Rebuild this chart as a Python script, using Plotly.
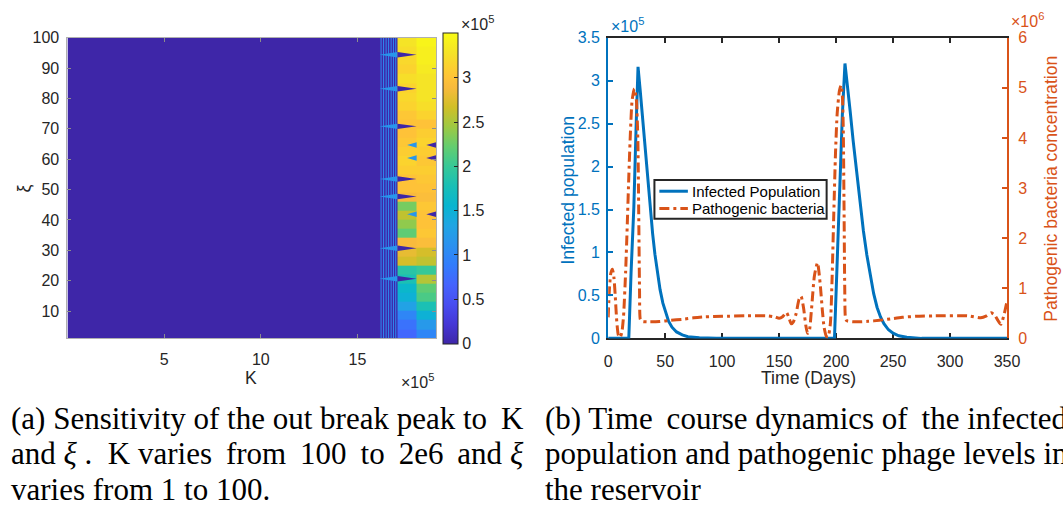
import plotly.graph_objects as go

W, H = 1063, 513

# ---------------- panel (a) data: outbreak peak vs K and xi ----------------
K_edges = [100, 16.14e5, 17.07e5, 18.06e5, 19.06e5]
xi_edges = [1, 4, 7, 10, 13, 16, 19, 22, 25, 28, 31, 34, 37, 40, 43, 46, 49,
            52, 55, 58, 61, 64, 67, 70, 73, 76, 79, 82, 85, 88, 91, 94, 97, 100]
# peak values (x1e5) in the two bands of high K, rows bottom -> top
band1_peak = [0.7, 0.8, 1.0, 1.3, 1.5, 1.6, 1.8, 1.9, 2.7, 2.8, 2.9, 2.2, 2.4,
              2.6, 2.3, 2.9, 3.0, 3.0, 3.1, 3.15, 3.1, 3.05, 3.0, 3.0, 3.05,
              3.15, 3.2, 3.15, 3.25, 3.15, 3.2, 3.25, 3.3]
band2_peak = [1.0, 1.2, 1.5, 1.8, 2.1, 2.2, 2.55, 2.0, 2.6, 2.7, 2.95, 3.05,
              3.0, 3.0, 3.05, 2.95, 3.0, 3.05, 3.1, 3.05, 3.1, 3.15, 3.1, 3.0,
              3.15, 3.25, 3.3, 3.3, 3.3, 3.35, 3.4, 3.4, 3.45]
low_peak = 0.0
transition_peak = 0.0
stripe_K = [16.22e5, 16.35e5, 16.48e5, 16.61e5, 16.74e5, 16.86e5, 16.98e5]
spike_left_xi = [94.4, 83.2, 70.8, 53.5, 47.7, 30.7, 20.6]
spike_right_xi = [64.7, 60.4, 41.9]
spike_half = 0.9
cb_max = 3.51e5

# ---------------- panel (b) data: time course ----------------
inf_t = [0, 18.1, 20.1, 22.5, 24.5, 26.2, 28, 30, 32, 34,
         36.8, 39, 41, 43, 45.5, 48, 50.5, 53, 56, 60,
         65, 70, 80, 95, 198.6, 200.5, 203, 205.5, 207.8, 210,
         212.4, 215, 218, 221, 224, 227, 230, 233, 236, 239,
         242, 246, 250, 255, 262, 275, 350]
inf_v = [0, 0, 0.77, 1.52, 2.46, 3.16, 2.9, 2.6, 2.25, 1.92,
         1.52, 1.22, 0.98, 0.77, 0.57, 0.41, 0.29, 0.2, 0.13, 0.075,
         0.04, 0.02, 0.006, 0, 0, 0.75, 1.7, 2.6, 3.2, 2.95,
         2.64, 2.3, 1.93, 1.58, 1.25, 0.97, 0.73, 0.52, 0.36, 0.25,
         0.17, 0.1, 0.06, 0.03, 0.012, 0, 0]  # x1e5
bac_t = [0, 1, 2.3, 3.7, 5, 6.2, 7.5, 9, 10.5, 12,
         13.5, 15.3, 16.8, 18.2, 19.6, 21, 23, 24.6, 26, 26.8,
         27.5, 28.2, 29.5, 35, 45, 55, 65, 75, 85, 100,
         120, 140, 146, 150, 153, 156.3, 158.5, 160.6, 162.5, 165,
         167.5, 169.3, 171.5, 173.5, 175, 176.5, 178.5, 181, 183.7, 186,
         188, 189.5, 191.5, 193, 195, 196.5, 198, 199.5, 201, 203,
         204.4, 205.5, 206.3, 207, 207.6, 208.3, 209.5, 218, 228, 238,
         248, 258, 270, 287, 316, 327, 332, 336, 339, 341.7,
         344.6, 347.5, 350]
bac_v = [0.42, 0.95, 1.3, 1.38, 1.22, 0.85, 0.35, 0.06, 0.02, 0.12,
         0.45, 1.32, 2.3, 3.3, 4.15, 4.75, 4.98, 4.8, 4.0, 2.5,
         1.0, 0.38, 0.34, 0.33, 0.335, 0.36, 0.38, 0.41, 0.43, 0.44,
         0.45, 0.45, 0.43, 0.4, 0.43, 0.52, 0.42, 0.29, 0.33, 0.5,
         0.78, 0.84, 0.6, 0.25, 0.1, 0.15, 0.6, 1.25, 1.51, 1.1,
         0.55, 0.22, 0.04, 0.03, 0.3, 1.2, 2.5, 3.7, 4.5, 4.95,
         5.05, 4.85, 4.2, 2.6, 1.0, 0.4, 0.35, 0.33, 0.34, 0.36,
         0.39, 0.42, 0.44, 0.45, 0.45, 0.41, 0.45, 0.51, 0.47, 0.37,
         0.28, 0.48, 0.74]  # x1e6

left_ticks = [0, 0.5, 1, 1.5, 2, 2.5, 3, 3.5]
right_ticks = [0, 1, 2, 3, 4, 5, 6]
cb_ticks = [0, 0.5, 1, 1.5, 2, 2.5, 3]
xi_ticks = [10, 20, 30, 40, 50, 60, 70, 80, 90, 100]
K_ticks = [5, 10, 15]
t_ticks = [0, 50, 100, 150, 200, 250, 300, 350]
legend_names = ["Infected Population", "Pathogenic bacteria"]

# ---------------- styling ----------------
parula = [
    [0.000, "rgb(62,38,168)"], [0.063, "rgb(69,55,213)"], [0.127, "rgb(72,77,240)"],
    [0.190, "rgb(69,99,253)"], [0.254, "rgb(50,124,252)"], [0.317, "rgb(43,145,239)"],
    [0.381, "rgb(32,165,227)"], [0.444, "rgb(8,181,208)"], [0.508, "rgb(25,191,182)"],
    [0.571, "rgb(55,200,151)"], [0.635, "rgb(100,205,111)"], [0.698, "rgb(157,201,67)"],
    [0.762, "rgb(209,191,39)"], [0.825, "rgb(248,186,61)"], [0.857, "rgb(254,195,56)"],
    [0.889, "rgb(252,207,48)"], [0.937, "rgb(245,227,39)"], [1.000, "rgb(249,251,21)"]]
BLUE = "#0072BD"
ORANGE = "#D95319"
DARK = "#262626"
SANS = "Liberation Sans, Arial, sans-serif"
SERIF = "Liberation Serif, Times New Roman, serif"
DASHDOT = "10px,4px,3px,4px"
TS = "\u2009"  # thin space used to mimic justified caption lines
NB = "\u00a0"


def px(x):
    return x / W


def py(y):
    return 1 - y / H


z = []
for i in range(len(xi_edges) - 1):
    z.append([low_peak, transition_peak, band1_peak[i] * 1e5, band2_peak[i] * 1e5])

fig = go.Figure()
fig.add_trace(go.Heatmap(
    x=K_edges, y=xi_edges, z=z, zmin=0, zmax=cb_max, colorscale=parula,
    zsmooth=False, hoverinfo="skip", xaxis="x", yaxis="y", showscale=True,
    colorbar=dict(
        x=px(446), xanchor="left", y=py(186.2), yanchor="middle",
        len=311, lenmode="pixels", thickness=15, thicknessmode="pixels",
        outlinecolor=DARK, outlinewidth=1, ticks="inside", ticklen=4,
        tickcolor=DARK, tickvals=[v * 1e5 for v in cb_ticks],
        ticktext=[f"{v:g}" for v in cb_ticks],
        tickfont=dict(family=SANS, size=16, color=DARK), xpad=0, ypad=0)))

# contour-like stripes in the transition zone
sx, sy = [], []
for k in stripe_K:
    sx += [k, k, None]
    sy += [xi_edges[0], xi_edges[-1], None]
fig.add_trace(go.Scatter(x=sx, y=sy, mode="lines", line=dict(color="rgb(45,140,240)", width=1),
                         hoverinfo="skip", showlegend=False, xaxis="x", yaxis="y"))

# spikes
lx, ly, dx, dy = [], [], [], []
for s in spike_left_xi:
    lx += [K_edges[1], K_edges[2], K_edges[2], K_edges[1], None]
    ly += [s, s + spike_half, s - spike_half, s, None]
    dx += [K_edges[2], K_edges[3], K_edges[2], K_edges[2], None]
    dy += [s + spike_half, s, s - spike_half, s + spike_half, None]
for s in spike_right_xi:
    mid1 = (K_edges[2] + K_edges[3]) / 2
    mid2 = (K_edges[3] + K_edges[4]) / 2
    lx += [mid1, K_edges[3], K_edges[3], mid1, None]
    ly += [s, s + spike_half, s - spike_half, s, None]
    dx += [mid2, K_edges[4], K_edges[4], mid2, None]
    dy += [s, s + spike_half, s - spike_half, s, None]
fig.add_trace(go.Scatter(x=lx, y=ly, mode="lines", fill="toself", fillcolor="rgb(40,150,235)",
                         line=dict(width=0, color="rgb(40,150,235)"), hoverinfo="skip",
                         showlegend=False, xaxis="x", yaxis="y"))
fig.add_trace(go.Scatter(x=dx, y=dy, mode="lines", fill="toself", fillcolor="rgb(62,38,168)",
                         line=dict(width=0, color="rgb(62,38,168)"), hoverinfo="skip",
                         showlegend=False, xaxis="x", yaxis="y"))

# panel (b)
fig.add_trace(go.Scatter(x=inf_t, y=[v * 1e5 for v in inf_v], mode="lines",
                         name=legend_names[0], line=dict(color=BLUE, width=3),
                         showlegend=False, xaxis="x2", yaxis="y2"))
fig.add_trace(go.Scatter(x=bac_t, y=[v * 1e6 for v in bac_v], mode="lines",
                         name=legend_names[1],
                         line=dict(color=ORANGE, width=3, dash=DASHDOT,
                                   shape="spline", smoothing=0.6),
                         showlegend=False, xaxis="x2", yaxis="y3"))

dom_y = [py(341.7), py(30.7)]
tickfont = dict(family=SANS, size=16, color=DARK)
fig.update_layout(
    width=W, height=H, margin=dict(l=0, r=0, t=0, b=0), autosize=False,
    paper_bgcolor="white", plot_bgcolor="white",
    showlegend=False,
    xaxis=dict(domain=[px(64.5), px(439)], range=[100, 19.06e5], tickvals=[v * 1e5 for v in K_ticks],
               ticktext=[str(v) for v in K_ticks], ticks="inside", ticklen=4, tickcolor="#8c8c8c",
               showline=True, linecolor="#b0b0b0", linewidth=1, mirror="ticks", showgrid=False,
               zeroline=False, tickfont=tickfont, anchor="y", ticklabelstandoff=6),
    yaxis=dict(domain=dom_y, range=[1, 100], tickvals=xi_ticks, ticks="inside", ticklen=4,
               tickcolor="#8c8c8c", showline=True, linecolor="#b0b0b0", linewidth=1,
               mirror="ticks", showgrid=False, zeroline=False, tickfont=tickfont, anchor="x",
               ticklabelstandoff=4),
    xaxis2=dict(domain=[px(614), px(1019.3)], range=[0, 350], tickvals=t_ticks, ticks="inside",
                ticklen=5, tickwidth=1.5, tickcolor=DARK, showline=True, linecolor=DARK,
                linewidth=2, mirror="ticks", showgrid=False, zeroline=False, tickfont=tickfont,
                anchor="y2", layer="below traces", ticklabelstandoff=7),
    yaxis2=dict(domain=dom_y, range=[0, 3.5e5], tickvals=[v * 1e5 for v in left_ticks],
                ticktext=[f"{v:g}" for v in left_ticks], ticks="inside", ticklen=5, tickwidth=1.5,
                tickcolor=BLUE, showline=True, linecolor=BLUE, linewidth=2, showgrid=False,
                zeroline=False, tickfont=dict(family=SANS, size=16, color=BLUE), anchor="x2",
                ticklabelstandoff=3),
    yaxis3=dict(domain=dom_y, range=[0, 6e6], tickvals=[v * 1e6 for v in right_ticks],
                ticktext=[str(v) for v in right_ticks], ticks="inside", ticklen=5, tickwidth=1.5,
                tickcolor=ORANGE, showline=True, linecolor=ORANGE, linewidth=2, showgrid=False,
                zeroline=False, tickfont=dict(family=SANS, size=16, color=ORANGE),
                overlaying="y2", side="right", anchor="x2", ticklabelstandoff=6),
)


def ann(text, x, y, size=16, color=DARK, xanchor="center", yanchor="middle", angle=0, family=SANS):
    fig.add_annotation(text=text, x=px(x), y=py(y), xref="paper", yref="paper", showarrow=False,
                       xanchor=xanchor, yanchor=yanchor, textangle=angle,
                       font=dict(family=family, size=size, color=color))


ann("K", 251, 383, size=17.6)
ann("ξ", 20, 187, size=17.6, angle=-90)
ann("×10<sup>5</sup>", 439, 386, xanchor="right")
ann("×10<sup>5</sup>", 462, 16, xanchor="left")
ann("Time (Days)", 818, 383, size=17.6)
ann("Infected population", 573, 188, size=17.6, color=BLUE, angle=-90)
ann("Pathogenic bacteria concentration", 1064, 187, size=17.6, color=ORANGE, angle=-90)
ann("×10<sup>5</sup>", 615, 18, color=BLUE, xanchor="left")
ann("×10<sup>6</sup>", 1021, 12, color=ORANGE, xanchor="left")

# legend box (panel b)
LEG = dict(x0=661, x1=836, y0=178, y1=218)
fig.add_shape(type="rect", xref="paper", yref="paper", x0=px(LEG["x0"]), x1=px(LEG["x1"]),
              y0=py(LEG["y1"]), y1=py(LEG["y0"]), fillcolor="white",
              line=dict(color=DARK, width=2), layer="above")
leg_rows = [189.5, 207.5]
leg_styles = [dict(color=BLUE, width=3), dict(color=ORANGE, width=3, dash=DASHDOT)]
for name, yy, st in zip(legend_names, leg_rows, leg_styles):
    fig.add_shape(type="line", xref="paper", yref="paper", x0=px(666), x1=px(695),
                  y0=py(yy), y1=py(yy), line=st, layer="above")
    ann(name, 697, yy, size=15, color="black", xanchor="left")

cap_a = ["(a) Sensitivity of the out break peak to" + TS + " K",
         "and <i>ξ</i>" + NB + "." + NB + NB + "K varies" + TS + " from" + TS
         + " 100" + TS + " to" + TS + " 2e6" + TS + " and <i>ξ</i>",
         "varies from 1 to 100."]
cap_b = ["(b) Time" + TS + " course dynamics of" + TS + " the infected",
         "population and pathogenic phage levels in",
         "the reservoir"]
cap_y = [425, 461, 498]
for line, yy in zip(cap_a, cap_y):
    ann(line, 5, yy, size=31, color="black", xanchor="left", family=SERIF)
for line, yy in zip(cap_b, cap_y):
    ann(line, 548, yy, size=31, color="black", xanchor="left", family=SERIF)

fig.write_html("out.html", config={"displayModeBar": False},
               post_script="document.body.style.margin='0';")
